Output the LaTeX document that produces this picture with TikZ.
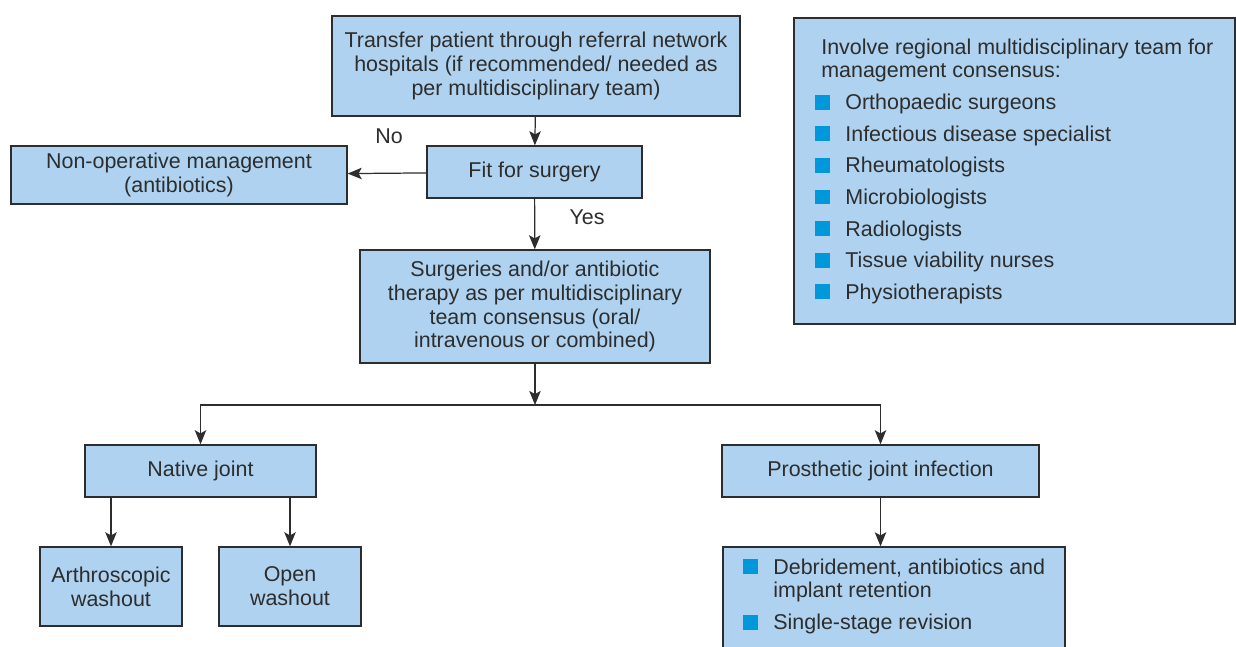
\documentclass[tikz,border=0pt]{standalone}
\usepackage{fontspec}
\setmainfont{Liberation Sans}
\usetikzlibrary{arrows.meta}
\definecolor{boxblue}{RGB}{174,210,239}
\definecolor{bulletblue}{RGB}{0,152,218}
\definecolor{linegray}{RGB}{45,45,45}
\newcommand\sqbullet{\textcolor{bulletblue}{\rule{8.5pt}{8.5pt}}}
\tikzset{
  flowbox/.style={draw=linegray,line width=0.8pt,fill=boxblue,align=center,inner sep=0pt,text=linegray},
  flowarrow/.style={draw=linegray,line width=0.7pt,-{Stealth[length=8pt,width=6.5pt,inset=1.8pt]}},
  listtext/.style={inner sep=0pt,anchor=north west,text=linegray},
  edgelabel/.style={inner sep=0pt,text=linegray}
}

\begin{document}
\begin{tikzpicture}[x=0.02cm,y=-0.02cm,font=\fontsize{12.2}{13.6}\selectfont]
    \useasboundingbox (0,0) rectangle (1236,646);
    \clip (0,0) rectangle (1236,646); % bottom right box runs off the page

    \node[flowbox,minimum width=8.16cm,minimum height=2.0cm] (transfer) at (536,66)
        {Transfer patient through referral network\\hospitals (if recommended/ needed as\\per multidisciplinary team)};
    \node[flowbox,minimum width=4.3cm,minimum height=1.04cm] (fit) at (534.5,172) {Fit for surgery};
    \node[flowbox,minimum width=6.72cm,minimum height=1.16cm] (nonop) at (179,175)
        {Non-operative management\\(antibiotics)};
    \node[flowbox,minimum width=7.0cm,minimum height=2.26cm] (surgery) at (535,306.5)
        {Surgeries and/or antibiotic\\therapy as per multidisciplinary\\team consensus (oral/\\intravenous or combined)};
    \node[flowbox,minimum width=8.82cm,minimum height=6.12cm] (team) at (1014.5,171) {};
    \node[flowbox,minimum width=4.62cm,minimum height=1.04cm] (native) at (200.5,471) {Native joint};
    \node[flowbox,minimum width=6.34cm,minimum height=1.04cm] (pji) at (880.5,471) {Prosthetic joint infection};
    \node[flowbox,minimum width=2.84cm,minimum height=1.58cm] (arthro) at (111,586.5) {Arthroscopic\\washout};
    \node[flowbox,minimum width=2.84cm,minimum height=1.58cm] (open) at (290,586.5) {Open\\washout};
    \node[flowbox,minimum width=6.84cm,minimum height=2.46cm] (dair) at (894,608.5) {};

    % lists inside the two right hand boxes
    \node[listtext] (teamlist) at (815,37) {%
      \begin{tabular}{@{}l@{\hspace{8.6pt}}l@{}}
        \multicolumn{2}{@{\hspace{3.4pt}}l@{}}{Involve regional multidisciplinary team for}\\
        \multicolumn{2}{@{\hspace{3.4pt}}l@{}}{management consensus:}\\[4.4pt]
        \sqbullet & Orthopaedic surgeons\\[4.4pt]
        \sqbullet & Infectious disease specialist\\[4.4pt]
        \sqbullet & Rheumatologists\\[4.4pt]
        \sqbullet & Microbiologists\\[4.4pt]
        \sqbullet & Radiologists\\[4.4pt]
        \sqbullet & Tissue viability nurses\\[4.4pt]
        \sqbullet & Physiotherapists
      \end{tabular}};
    \node[listtext] (dairlist) at (743,557) {%
      \begin{tabular}{@{}l@{\hspace{8.6pt}}l@{}}
        \sqbullet & Debridement, antibiotics and\\
                  & implant retention\\[4.4pt]
        \sqbullet & Single-stage revision
      \end{tabular}};

    \coordinate (split) at (535,405);

    \draw[flowarrow] (transfer) -- (fit);
    \draw[flowarrow] (fit) -- (nonop);
    \draw[flowarrow] (fit) -- (surgery);
    \draw[flowarrow] (surgery) -- (split);
    \draw[flowarrow] (split) -| (native);
    \draw[flowarrow] (split) -| (pji);
    \draw[flowarrow] (arthro.north |- native.south) -- (arthro);
    \draw[flowarrow] (open.north |- native.south) -- (open);
    \draw[flowarrow] (pji.south) -- (pji.south |- dair.north);

    \node[edgelabel] (nolabel) at (389,136) {No};
    \node[edgelabel] (yeslabel) at (587,217) {Yes};
\end{tikzpicture}
\end{document}
